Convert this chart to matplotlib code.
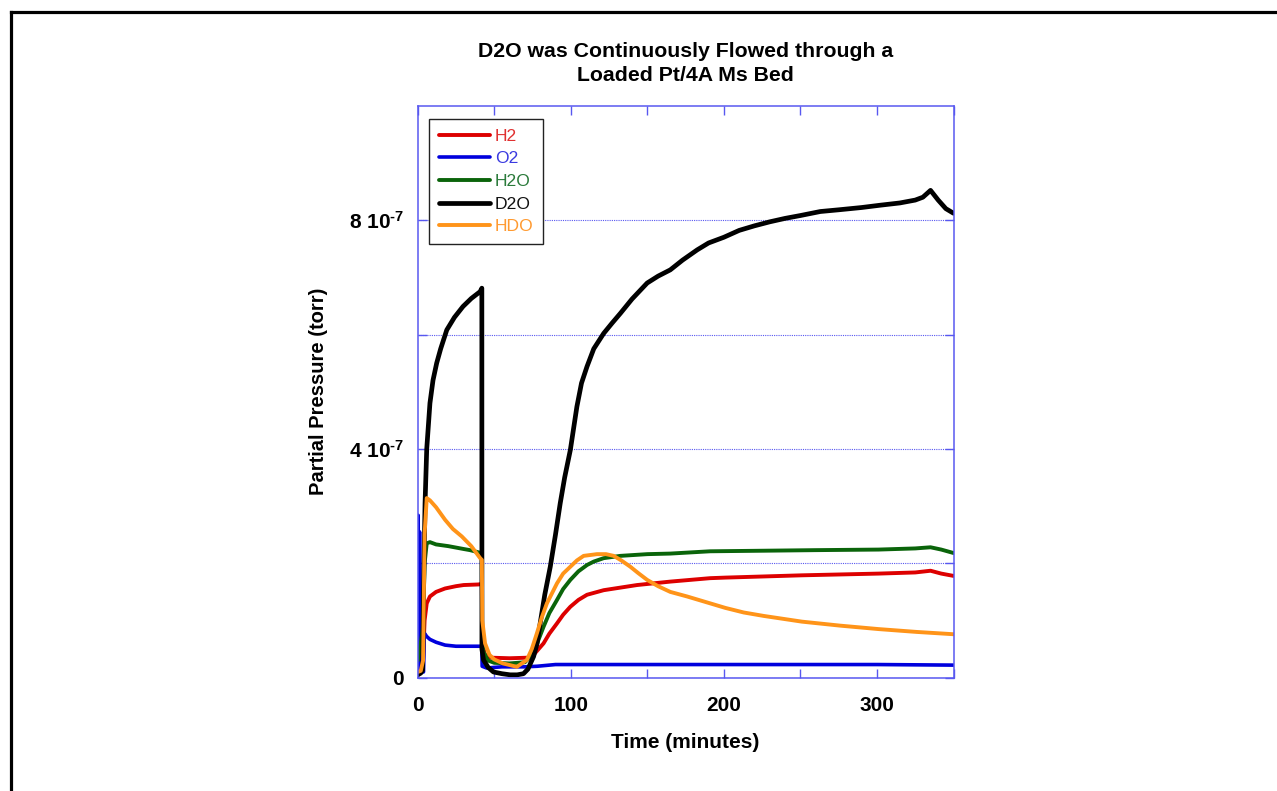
import numpy as np
import matplotlib
matplotlib.use("Agg")
import matplotlib.pyplot as plt
from matplotlib.ticker import FixedLocator, FixedFormatter, MultipleLocator
from matplotlib.lines import Line2D

plt.rcParams['font.family'] = ['Liberation Sans', 'DejaVu Sans']
plt.rcParams['mathtext.fontset'] = 'custom'
plt.rcParams['mathtext.rm'] = 'Liberation Sans:bold'
plt.rcParams['mathtext.bf'] = 'Liberation Sans:bold'
plt.rcParams['mathtext.default'] = 'rm'

SCALE = 1e-7  # values below are in units of 1e-7 torr

# ---------------- data ----------------
t_d2o = [0, 2, 3.2, 3.8, 4.8, 5.9, 8, 10, 12.4, 15, 19, 24, 29.6, 35, 40.8, 41.9,
         41.95, 43, 46, 49.5, 55, 60.4, 65, 69.1, 72, 75.7, 78, 80, 83, 86.6, 90,
         93.1, 96, 99.7, 104, 107, 110.6, 115, 121.5, 127, 132.4, 140, 149.9, 157,
         165, 173, 182.6, 190, 200, 210, 220, 230, 240, 250, 263, 275, 290, 302,
         315, 325, 330, 335, 340, 345, 350]
d2o = [0.05, 0.08, 0.13, 1.5, 3.05, 4.0, 4.8, 5.2, 5.5, 5.75, 6.08, 6.3, 6.49, 6.63,
       6.75, 6.81, 0.5, 0.31, 0.18, 0.1, 0.07, 0.05, 0.05, 0.07, 0.15, 0.37, 0.6,
       0.95, 1.45, 1.94, 2.5, 3.05, 3.5, 3.98, 4.74, 5.15, 5.44, 5.75, 6.02, 6.2,
       6.37, 6.62, 6.9, 7.02, 7.13, 7.3, 7.48, 7.6, 7.7, 7.82, 7.9, 7.97, 8.03,
       8.08, 8.15, 8.18, 8.22, 8.26, 8.3, 8.35, 8.4, 8.52, 8.35, 8.2, 8.12]

t_h2o = [0, 2, 3.5, 4.5, 5.9, 8, 12, 20, 30, 34.2, 40, 41.9, 42, 43, 46, 50, 60, 70,
         75.7, 78, 82.2, 86, 91, 95, 99.7, 105, 110.6, 115, 121.5, 132.4, 150, 165,
         191, 226, 260, 301, 325, 335, 342, 350]
h2o = [0.3, 0.6, 0.9, 2.0, 2.35, 2.37, 2.33, 2.3, 2.25, 2.23, 2.19, 2.18, 0.8, 0.45,
       0.3, 0.26, 0.25, 0.27, 0.42, 0.6, 0.89, 1.13, 1.36, 1.55, 1.71, 1.86, 1.97,
       2.03, 2.09, 2.13, 2.16, 2.17, 2.21, 2.22, 2.23, 2.24, 2.26, 2.28, 2.24, 2.18]

t_h2 = [0, 2, 3.5, 4.5, 5.9, 8, 12, 17.9, 25, 30, 39.7, 41.9, 42.1, 44, 48, 60, 72,
        75.7, 82.2, 86, 91, 95, 99.7, 105, 110.6, 121.5, 143.3, 165, 191, 201, 251,
        301, 325, 335, 342, 350]
h2 = [0.05, 0.1, 0.3, 1.0, 1.3, 1.42, 1.5, 1.56, 1.6, 1.62, 1.63, 1.64, 0.6, 0.4,
      0.35, 0.34, 0.35, 0.4, 0.6, 0.77, 0.95, 1.1, 1.24, 1.36, 1.45, 1.53, 1.62,
      1.68, 1.74, 1.75, 1.79, 1.82, 1.84, 1.87, 1.82, 1.78]

t_o2 = [0, 0.3, 0.6, 0.9, 1.2, 1.6, 2.5, 3.8, 4.3, 5.9, 8, 12, 17.9, 25, 40.5, 41.9,
        42.1, 45, 55, 70, 78, 90, 120, 200, 300, 350]
o2 = [0.1, 2.84, 1.0, 0.6, 2.55, 0.3, 0.12, 0.1, 0.78, 0.72, 0.67, 0.62, 0.57, 0.55,
      0.55, 0.54, 0.2, 0.17, 0.19, 0.19, 0.2, 0.23, 0.23, 0.23, 0.23, 0.22]

t_hdo = [0, 2, 3.5, 4.5, 5.9, 8, 12, 17.9, 23, 28.8, 35, 40.8, 41.9, 42.2, 44, 46.9,
         50, 55.6, 64.8, 71.3, 74.5, 77.9, 81, 84.4, 91, 95, 99.7, 104, 108.4, 117.1,
         123, 128, 133, 138.9, 144, 149.9, 157, 165, 176, 191, 201, 213, 226, 251,
         276, 301, 326, 350]
hdo = [0.1, 0.12, 0.3, 2.5, 3.14, 3.1, 2.98, 2.76, 2.6, 2.47, 2.3, 2.09, 2.06, 1.0,
       0.6, 0.4, 0.32, 0.25, 0.19, 0.31, 0.5, 0.78, 1.05, 1.3, 1.65, 1.82, 1.94,
       2.05, 2.13, 2.16, 2.16, 2.13, 2.05, 1.94, 1.83, 1.71, 1.6, 1.5, 1.42, 1.3,
       1.22, 1.14, 1.08, 0.98, 0.91, 0.85, 0.8, 0.76]

title = "D2O was Continuously Flowed through a\nLoaded Pt/4A Ms Bed"
x_ticks = [0, 100, 200, 300]
y_ticks = [0, 4e-7, 8e-7]
y_ticklabels = ['0', r'4 10$^{\text{-}7}$', r'8 10$^{\text{-}7}$']

# ---------------- figure ----------------
W, H = 1277, 791
fig = plt.figure(figsize=(W / 100, H / 100), dpi=100)
ax = fig.add_axes([417.7 / W, 1 - 677.7 / H, (953.5 - 417.7) / W, (677.7 - 105.7) / H])

axblue = '#5858f0'
series = [
    ('H2', t_h2, h2, '#dd0000', '#e03030', 2.8),
    ('O2', t_o2, o2, '#0000dd', '#3a3ae0', 2.6),
    ('H2O', t_h2o, h2o, '#0a640a', '#2a7a3a', 2.8),
    ('D2O', t_d2o, d2o, '#000000', '#111111', 3.4),
    ('HDO', t_hdo, hdo, '#ff9419', '#ff9a30', 2.8),
]
handles = []
for name, tt, vv, col, tcol, lw in series:
    ln, = ax.plot(tt, np.array(vv) * SCALE, color=col, lw=lw, label=name,
                  solid_joinstyle='round', solid_capstyle='round')
    handles.append(ln)

ax.set_xlim(0, 350)
ax.set_ylim(0, 1e-6)

for s in ax.spines.values():
    s.set_color(axblue)
    s.set_linewidth(1.1)

ax.xaxis.set_major_locator(FixedLocator(x_ticks))
ax.xaxis.set_minor_locator(MultipleLocator(50))
ax.yaxis.set_major_locator(FixedLocator(y_ticks))
ax.yaxis.set_major_formatter(FixedFormatter(y_ticklabels))
ax.yaxis.set_minor_locator(FixedLocator([2e-7, 6e-7]))
ax.tick_params(which='both', direction='in', top=True, right=True, color=axblue,
               width=1.0, length=6.5)
ax.tick_params(axis='x', which='major', labelsize=15, pad=13)
ax.tick_params(axis='y', which='major', labelsize=15, pad=10)
for lab in ax.get_xticklabels() + ax.get_yticklabels():
    lab.set_fontweight('bold')

ax.grid(axis='y', which='both', color=axblue, linestyle=(0, (1, 1)), linewidth=0.8)

ax.set_xlabel('Time (minutes)', fontsize=15, fontweight='bold', labelpad=13)
ax.set_ylabel('Partial Pressure (torr)', fontsize=14.5, fontweight='bold', labelpad=15)

fig.text(685.6 / W, 1 - 63.5 / H, title, ha='center', va='center', fontsize=15.3,
         fontweight='bold', linespacing=1.3)

leg = ax.legend(handles=handles, loc='upper left',
                bbox_to_anchor=((429.3 - 417.7) / 535.8, (677.7 - 119) / 572),
                borderaxespad=0, fontsize=12.6, handlelength=2.9, handletextpad=0.3,
                labelspacing=0.42, borderpad=0.55, fancybox=False, framealpha=1,
                edgecolor='#222222')
leg.get_frame().set_linewidth(1.0)
for txt, s in zip(leg.get_texts(), series):
    txt.set_color(s[4])

# page frame lines (top and left)
fig.add_artist(Line2D([10.5 / W, 1.0], [1 - 12.3 / H, 1 - 12.3 / H], color='black', lw=2.3,
                      transform=fig.transFigure))
fig.add_artist(Line2D([10.5 / W, 10.5 / W], [0, 1 - 12.3 / H], color='black', lw=2.3,
                      transform=fig.transFigure))

fig.savefig('out.png', dpi=100)
